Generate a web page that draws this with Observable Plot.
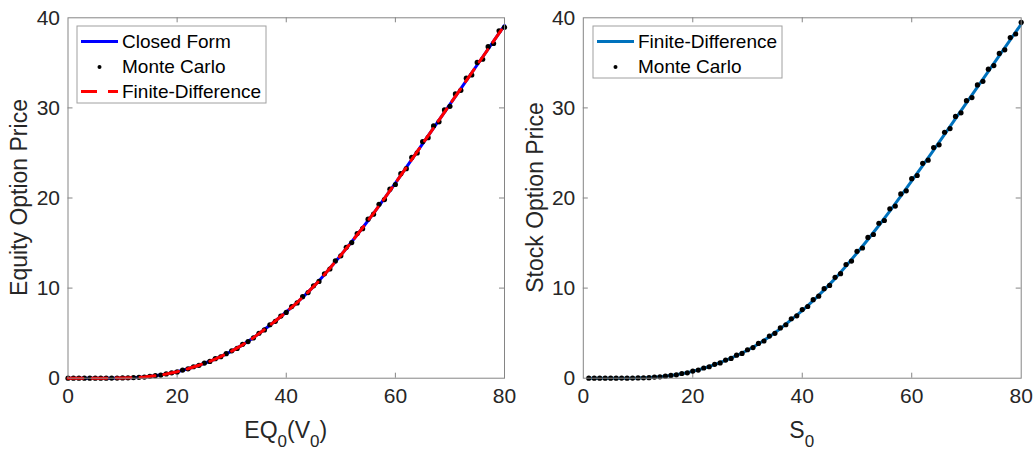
<!DOCTYPE html>
<html><head><meta charset="utf-8">
<script src="https://cdn.jsdelivr.net/npm/d3@7"></script>
<script src="https://cdn.jsdelivr.net/npm/@observablehq/plot@0.6"></script>
<style>
html,body{margin:0;padding:0;background:#fff;}
#wrap{display:flex;width:1035px;height:450px;}
svg text{font-family:"Liberation Sans",Arial,Helvetica,sans-serif;}
</style></head><body><div id="wrap"></div>
<script>
// ---- Left panel: equity option ----
const equityGrid = [0,2,4,6,8,10,12,14,16,18,20,22,24,26,28,30,32,34,36,38,40,42,44,46,48,50,52,54,56,58,60,62,64,66,68,70,72,74,76,78,80];
const closedForm = [0,0,0,0,0.005,0.02,0.06,0.14,0.27,0.46,0.72,1.05,1.44,1.88,2.4,3.0,3.7,4.5,5.4,6.35,7.35,8.4,9.55,10.8,12.2,13.65,15.15,16.7,18.3,19.95,21.65,23.4,25.15,26.9,28.65,30.4,32.15,33.9,35.65,37.4,39.15];
const finiteDiffEquity = [0,0,0,0,0.005,0.02,0.06,0.14,0.27,0.46,0.72,1.05,1.44,1.88,2.4,3.0,3.7,4.5,5.4,6.35,7.35,8.4,9.55,10.8,12.2,13.65,15.15,16.7,18.3,19.95,21.65,23.4,25.15,26.9,28.65,30.4,32.15,33.9,35.65,37.4,39.15];
const mcEquityX = [0,1,2,3,4,5,6,7,8,9,10,11,12,13,14,15,16,17,18,19,20,21,22,23,24,25,26,27,28,29,30,31,32,33,34,35,36,37,38,39,40,41,42,43,44,45,46,47,48,49,50,51,52,53,54,55,56,57,58,59,60,61,62,63,64,65,66,67,68,69,70,71,72,73,74,75,76,77,78,79,80];
const mcEquity = [0,0,0,0,0,0,0,0,0.01,0.01,0.03,0.04,0.07,0.1,0.13,0.21,0.28,0.35,0.47,0.6,0.7,0.9,1.04,1.27,1.43,1.68,1.86,2.17,2.38,2.72,3.04,3.31,3.76,4.07,4.47,4.99,5.36,5.93,6.31,6.9,7.3,7.95,8.36,9.05,9.5,10.26,10.74,11.58,12.12,13.02,13.58,14.52,15.05,16.05,16.6,17.65,18.2,19.3,19.82,20.98,21.5,22.7,23.25,24.5,25.0,26.25,26.7,28.0,28.45,29.78,30.18,31.55,31.95,33.3,33.65,35.05,35.4,36.8,37.15,38.55,38.95];

// ---- Right panel: stock option ----
const stockGrid = [1,2,4,6,8,10,12,14,16,18,20,22,24,26,28,30,32,34,36,38,40,42,44,46,48,50,52,54,56,58,60,62,64,66,68,70,72,74,76,78,80];
const finiteDiffStock = [0,0,0,0,0.005,0.02,0.07,0.16,0.3,0.5,0.76,1.1,1.5,1.97,2.5,3.1,3.8,4.6,5.5,6.5,7.5,8.6,9.8,11.05,12.45,13.9,15.4,16.95,18.55,20.2,21.9,23.6,25.3,27.05,28.8,30.55,32.3,34.05,35.8,37.55,39.3];
const mcStockX = [1,2,3,4,5,6,7,8,9,10,11,12,13,14,15,16,17,18,19,20,21,22,23,24,25,26,27,28,29,30,31,32,33,34,35,36,37,38,39,40,41,42,43,44,45,46,47,48,49,50,51,52,53,54,55,56,57,58,59,60,61,62,63,64,65,66,67,68,69,70,71,72,73,74,75,76,77,78,79,80];
const mcStock = [0,0,0,0,0,0,0.01,0,0.01,0.03,0.04,0.06,0.12,0.15,0.23,0.31,0.37,0.52,0.6,0.79,0.9,1.13,1.27,1.54,1.7,2.01,2.2,2.55,2.75,3.16,3.4,3.86,4.13,4.67,4.98,5.58,5.93,6.6,6.92,7.62,7.96,8.72,9.1,9.94,10.3,11.2,11.6,12.62,13.0,14.08,14.45,15.62,15.95,17.2,17.5,18.8,19.1,20.45,20.8,22.15,22.5,23.85,24.2,25.6,25.9,27.3,27.7,29.05,29.45,30.8,31.15,32.55,32.95,34.3,34.7,36.05,36.45,37.8,38.2,39.5];

const xTicks = [0,20,40,60,80];
const yTicks = [0,10,20,30,40];

const H = 450, MT = 17.3, MB = 72.3;
const AX = "#858585", TXT = "#262626";

function pts(xs, ys){ return xs.map((x,i)=>({x, y: ys[i]})); }

function makePanel(o){
  const innerW = o.width - o.ml - o.mr, innerH = H - MT - MB;
  const inner = xTicks.slice(1,-1), innerY = yTicks.slice(1,-1);
  const marks = [
    Plot.ruleX(inner, {stroke: AX, insetTop: innerH - 5}),
    Plot.ruleX(inner, {stroke: AX, insetBottom: innerH - 5}),
    Plot.ruleY(innerY, {stroke: AX, insetRight: innerW - 5}),
    Plot.ruleY(innerY, {stroke: AX, insetLeft: innerW - 5}),
    Plot.axisX({ticks: xTicks, tickSize: 0, tickPadding: 10, fontSize: 21, fill: TXT, label: null}),
    Plot.axisY({ticks: yTicks, tickSize: 0, tickPadding: 8, fontSize: 21, fill: TXT, label: null}),
    ...o.marks,
    Plot.frame({stroke: AX, strokeWidth: 1})
  ];
  const svg = Plot.plot({
    width: o.width, height: H, marginTop: MT, marginBottom: MB, marginLeft: o.ml, marginRight: o.mr,
    x: {domain: [0,80]}, y: {domain: [0,40]},
    style: {background: "#fff", color: TXT, fontFamily: "'Liberation Sans', Arial, sans-serif", overflow: "visible"},
    marks
  });
  const s = d3.select(svg);
  // y label
  s.append("text").attr("transform", `translate(${o.ylabelX},${(MT + H - MB)/2}) rotate(-90)`)
    .attr("text-anchor","middle").attr("font-size",23).attr("fill",TXT).text(o.ylabel);
  // x label with subscripts
  const xl = s.append("text").attr("x", o.ml + innerW/2).attr("y", 437.5)
    .attr("text-anchor","middle").attr("font-size",23).attr("fill",TXT);
  o.xlabel.forEach(p => {
    if (p.sub) xl.append("tspan").attr("dy", 9).attr("font-size", 17).text(p.t);
    else xl.append("tspan").attr("dy", p.after ? -9 : 0).text(p.t);
  });
  // legend
  const L = o.legend;
  const g = s.append("g").attr("text-anchor", "start");
  g.append("rect").attr("x", L.x).attr("y", 26).attr("width", L.w).attr("height", 25*L.items.length + 2)
    .attr("fill","#fff").attr("stroke","#a0a0a0").attr("stroke-width",1);
  L.items.forEach((it, i) => {
    const cy = 41.5 + 25*i;
    if (it.type === "line") {
      g.append("line").attr("x1", L.x+4).attr("x2", L.x+41).attr("y1", cy).attr("y2", cy)
        .attr("stroke", it.color).attr("stroke-width", 3).attr("stroke-dasharray", it.dash || null);
    } else {
      g.append("circle").attr("cx", L.x+22.5).attr("cy", cy+0.5).attr("r", 2).attr("fill", "#000");
    }
    g.append("text").attr("x", L.x+45).attr("y", cy+6.8).attr("text-anchor","start")
      .attr("font-size",19).attr("fill","#000").text(it.label);
  });
  return svg;
}

const left = makePanel({
  width: 517, ml: 67.5, mr: 13,
  ylabel: "Equity Option Price", ylabelX: 27,
  xlabel: [{t:"EQ"},{t:"0",sub:true},{t:"(V",after:true},{t:"0",sub:true},{t:")",after:true}],
  legend: {x: 77, w: 189, items: [
    {type:"line", color:"#0000FF", label:"Closed Form"},
    {type:"dot", label:"Monte Carlo"},
    {type:"line", color:"#FF0000", dash:"16,11", label:"Finite-Difference"}
  ]},
  marks: [
    Plot.line(pts(equityGrid, closedForm), {x:"x", y:"y", stroke:"#0000FF", strokeWidth:3}),
    Plot.dot(pts(mcEquityX, mcEquity), {x:"x", y:"y", r:2.6, fill:"#000", stroke:null}),
    Plot.line(pts(equityGrid, finiteDiffEquity), {x:"x", y:"y", stroke:"#FF0000", strokeWidth:3, strokeDasharray:"15,9"})
  ]
});

const right = makePanel({
  width: 518, ml: 65.8, mr: 14.3,
  ylabel: "Stock Option Price", ylabelX: 26,
  xlabel: [{t:"S"},{t:"0",sub:true}],
  legend: {x: 76, w: 189, items: [
    {type:"line", color:"#0072BD", label:"Finite-Difference"},
    {type:"dot", label:"Monte Carlo"}
  ]},
  marks: [
    Plot.line(pts(stockGrid, finiteDiffStock), {x:"x", y:"y", stroke:"#0072BD", strokeWidth:3}),
    Plot.dot(pts(mcStockX, mcStock), {x:"x", y:"y", r:2.6, fill:"#000", stroke:null})
  ]
});

document.getElementById("wrap").append(left, right);
</script></body></html>
